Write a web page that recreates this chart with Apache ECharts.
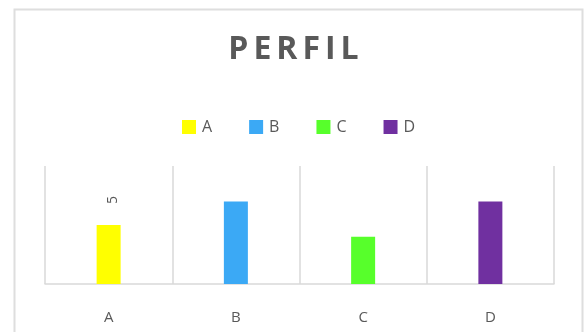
<!DOCTYPE html>
<html>
<head>
<meta charset="utf-8">
<title>PERFIL</title>
<script src="https://cdn.jsdelivr.net/npm/echarts@6/dist/echarts.min.js"></script>
<style>
  html, body { margin: 0; padding: 0; background: #ffffff; }
  #chart { width: 587px; height: 332px; }
</style>
</head>
<body>
<div id="chart"></div>
<script>
// Chart data
const titleText = 'PERFIL';
const categories = ['A', 'B', 'C', 'D'];
const values = [5, 7, 4, 7];
const seriesColors = ['#FFFF00', '#3BA9F5', '#57FF2B', '#7030A0'];
const labeledCategories = ['A'];
const axisMax = 10;

const textColor = '#595959';
const lineColor = '#d9d9d9';
const fontFamily = '"Open Sans", "Noto Sans", sans-serif';

// Spaced-out title: each letter is its own rich-text token with side padding
const titleTokens = titleText.split('').map(ch => '{t|' + ch + '}').join('');

const chart = echarts.init(document.getElementById('chart'), null, { renderer: 'canvas' });

const series = categories.map((name, i) => ({
  name: name,
  type: 'bar',
  barWidth: 24,
  barGap: '-100%',
  data: categories.map((c, j) => (j === i ? values[i] : '-')),
  itemStyle: { color: seriesColors[i] },
  label: {
    show: labeledCategories.indexOf(name) !== -1,
    position: 'top',
    distance: 21,
    offset: [0, 4],
    rotate: 90,
    align: 'left',
    verticalAlign: 'middle',
    fontSize: 14,
    fontFamily: fontFamily,
    color: textColor
  },
  emphasis: { disabled: true }
}));

chart.setOption({
  animation: false,
  backgroundColor: '#ffffff',
  title: {
    text: titleTokens,
    left: 'center',
    top: 29,
    textStyle: {
      rich: {
        t: {
          fontSize: 32,
          fontWeight: 'bold',
          fontFamily: fontFamily,
          color: textColor,
          padding: [0, 2.5]
        }
      }
    }
  },
  legend: {
    data: categories,
    left: 177,
    top: 114,
    icon: 'rect',
    itemWidth: 14,
    itemHeight: 14,
    itemGap: 37,
    itemStyle: { borderWidth: 0 },
    textStyle: { fontSize: 16, fontFamily: fontFamily, color: textColor, padding: [0, 0, 0, 1] }
  },
  grid: { left: 45, right: 33, top: 166, bottom: 48, containLabel: false },
  xAxis: {
    type: 'category',
    data: categories,
    axisTick: { show: false },
    axisLine: { show: true, lineStyle: { color: lineColor, width: 1.5 } },
    axisLabel: { fontSize: 15, fontFamily: fontFamily, color: textColor, margin: 26 },
    splitLine: { show: true, interval: 0, lineStyle: { color: lineColor, width: 1.5 } }
  },
  yAxis: {
    type: 'value',
    min: 0,
    max: axisMax,
    axisLine: { show: false },
    axisTick: { show: false },
    axisLabel: { show: false },
    splitLine: { show: false }
  },
  graphic: [{
    type: 'rect',
    silent: true,
    shape: { x: 14.5, y: 9.5, width: 568, height: 340 },
    style: { fill: 'none', stroke: '#dedede', lineWidth: 2 }
  }],
  series: series
});
</script>
</body>
</html>
